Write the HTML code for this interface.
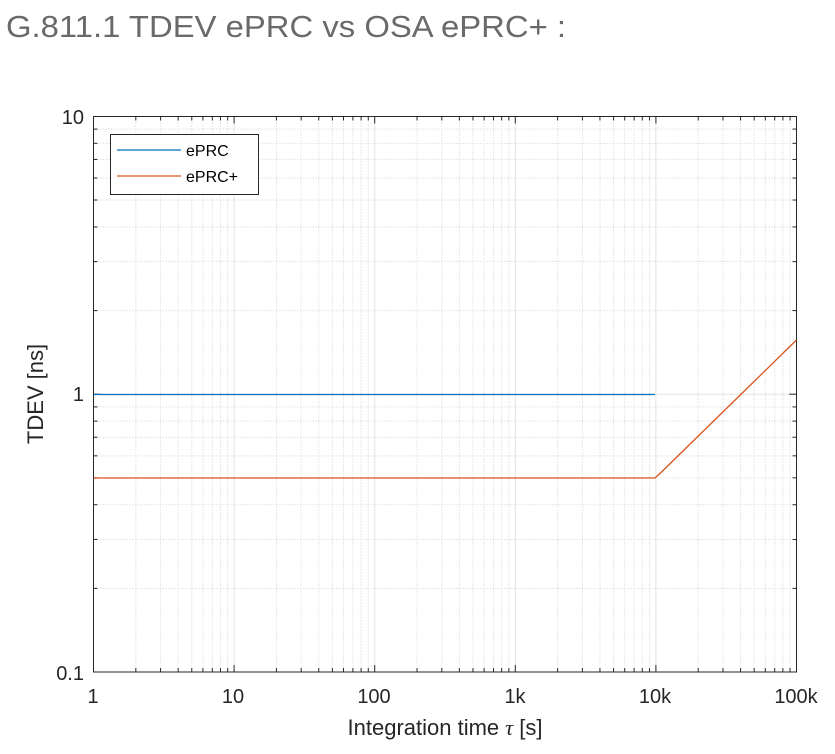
<!DOCTYPE html>
<html><head><style>
body{margin:0;background:#fff;width:835px;height:749px;overflow:hidden;font-family:"Liberation Sans",sans-serif}
</style></head><body>
<svg id="s" width="835" height="749" xmlns="http://www.w3.org/2000/svg" font-family="Liberation Sans, sans-serif">
<text x="6" y="37" font-size="31" fill="#6a6a6a" textLength="560" lengthAdjust="spacingAndGlyphs">G.811.1 TDEV ePRC vs  OSA ePRC+ :</text>
<g id="grid"></g>
<rect x="93.5" y="116.5" width="703" height="555.5" fill="none" stroke="#262626" stroke-width="1"/>
<g id="ticks"></g>
<polyline points="93.5,394.5 655,394.5" fill="none" stroke="#0072BD" stroke-width="1.3"/>
<polyline points="93.5,478 655,478 661,472.5 796.5,340" fill="none" stroke="#D95319" stroke-width="1.3"/>
<rect x="110.5" y="134.5" width="148" height="60" fill="#fff" stroke="#262626"/>
<line x1="117" y1="150" x2="181" y2="150" stroke="#0072BD" stroke-width="1.3"/>
<line x1="117" y1="176" x2="181" y2="176" stroke="#D95319" stroke-width="1.3"/>
<text x="186" y="156" font-size="16" fill="#000">ePRC</text>
<text x="186" y="182" font-size="16" fill="#000">ePRC+</text>
<g font-size="20" fill="#262626" text-anchor="middle">
<text x="93" y="703">1</text><text x="233" y="703">10</text><text x="374" y="703">100</text>
<text x="515" y="703">1k</text><text x="655" y="703">10k</text><text x="796" y="703">100k</text>
</g>
<g font-size="20" fill="#262626" text-anchor="end">
<text x="84" y="124">10</text><text x="84" y="401">1</text><text x="84" y="680">0.1</text>
</g>
<text x="445" y="735" font-size="22" fill="#262626" text-anchor="middle">Integration time <tspan font-family="Liberation Serif" font-style="italic">τ</tspan> [s]</text>
<text transform="translate(43,394) rotate(-90)" font-size="22" fill="#262626" text-anchor="middle">TDEV [ns]</text>
</svg>
<script>
var ns="http://www.w3.org/2000/svg",g=document.getElementById('grid'),t=document.getElementById('ticks');
function L(p,x1,y1,x2,y2,c,d,w){var l=document.createElementNS(ns,'line');l.setAttribute('x1',x1);l.setAttribute('y1',y1);l.setAttribute('x2',x2);l.setAttribute('y2',y2);l.setAttribute('stroke',c);l.setAttribute('stroke-width',w||1);if(d)l.setAttribute('stroke-dasharray',d);p.appendChild(l);}
var X0=93.5,XD=140.6,Y0=672,YD=277.8,R=796.5,T=116.5;
for(var d=0;d<5;d++)for(var k=1;k<10;k++){var x=X0+(d+Math.log10(k))*XD;
 if(k==1){if(d>0)L(g,x,T,x,Y0,'#e3e3e3');L(t,x,Y0,x,Y0-7,'#262626');L(t,x,T,x,T+7,'#262626');}
 else{L(g,x,T,x,Y0,'#d0d0d0','1,2');L(t,x,Y0,x,Y0-4,'#262626');L(t,x,T,x,T+4,'#262626');}}
for(var d=0;d<2;d++)for(var k=1;k<10;k++){var y=Y0-(d+Math.log10(k))*YD;
 if(k==1){if(d>0)L(g,X0,y,R,y,'#e3e3e3');L(t,X0,y,X0+7,y,'#262626');L(t,R,y,R-7,y,'#262626');}
 else{L(g,X0,y,R,y,'#d0d0d0','1,2');L(t,X0,y,X0+4,y,'#262626');L(t,R,y,R-4,y,'#262626');}}
</script>
</body></html>
